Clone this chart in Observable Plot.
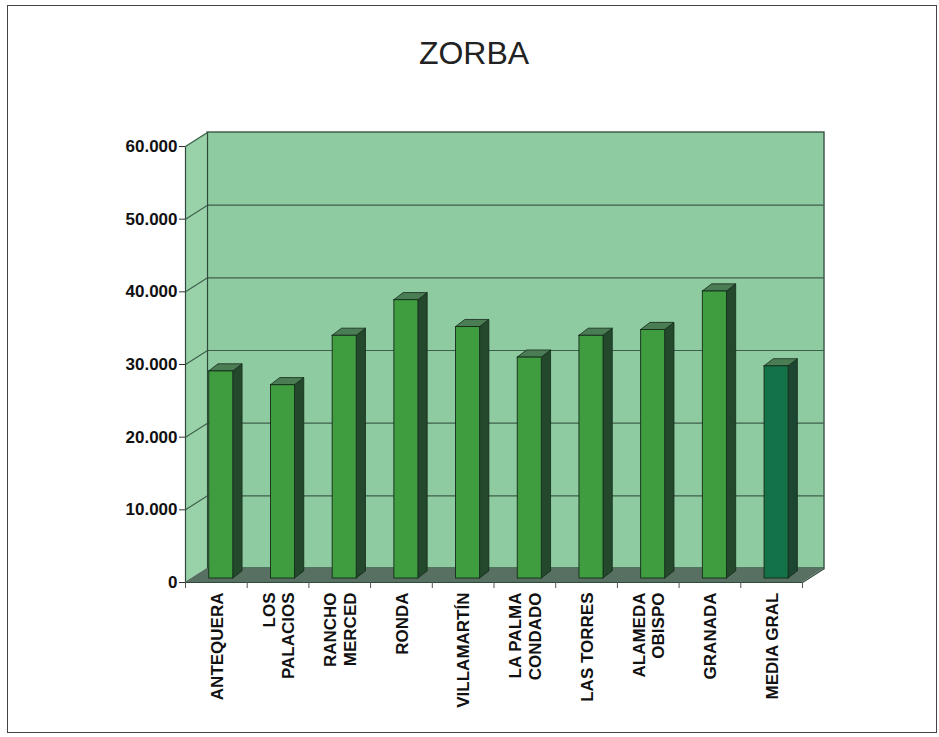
<!DOCTYPE html>
<html>
<head>
<meta charset="utf-8">
<script src="https://cdn.jsdelivr.net/npm/d3@7"></script>
<script src="https://cdn.jsdelivr.net/npm/@observablehq/plot@0.6"></script>
<style>
  html, body { margin: 0; padding: 0; background: #fff; }
  #wrap { position: relative; width: 939px; height: 737px; overflow: hidden; }
  #border { position: absolute; left: 7px; top: 5px; width: 928px; height: 726px; border: 1.5px solid #444; pointer-events: none; }
</style>
</head>
<body>
<div id="wrap"><div id="border"></div></div>
<script>
// ---- data ----
const title = "ZORBA";
const categories = ["ANTEQUERA", "LOS\nPALACIOS", "RANCHO\nMERCED", "RONDA", "VILLAMARTÍN",
                    "LA PALMA\nCONDADO", "LAS TORRES", "ALAMEDA\nOBISPO", "GRANADA", "MEDIA GRAL"];
const values = [28500, 26600, 33400, 38300, 34600, 30400, 33400, 34200, 39500, 29200];
const yTicks = [0, 10000, 20000, 30000, 40000, 50000, 60000];

// ---- 3D geometry (in data units) ----
const n = categories.length;
const boxDX = 0.357, boxDY = 1927;      // depth of the chart box
const barOffX = 0.08, barOffY = 550;    // bar front face set back from the front plane
const barW = 0.39;                      // bar front width
const barDX = 0.15, barDY = 980;        // bar depth
const yMax = yTicks[yTicks.length - 1];

const bars = values.map((v, i) => {
  const x1 = i + 0.5 - barW / 2 + barOffX;
  return {i, v, x1, x2: x1 + barW, y1: barOffY, y2: v + barOffY, avg: i === n - 1};
});
const sidePts = bars.flatMap(b => [
  {k: b.i, avg: b.avg, x: b.x2, y1: b.y1, y2: b.y2},
  {k: b.i, avg: b.avg, x: b.x2 + barDX, y1: b.y1 + barDY, y2: b.y2 + barDY}
]);
const capPts = bars.flatMap(b => [
  {k: b.i, x: b.x1, y1: b.y2, y2: b.y2},
  {k: b.i, x: b.x1 + barDX, y1: b.y2, y2: b.y2 + barDY},
  {k: b.i, x: b.x2, y1: b.y2, y2: b.y2 + barDY},
  {k: b.i, x: b.x2 + barDX, y1: b.y2 + barDY, y2: b.y2 + barDY}
]);
const leftWall = [{x: 0, y1: 0, y2: yMax}, {x: boxDX, y1: boxDY, y2: yMax + boxDY}];
const floor = [
  {x: 0, y1: 0, y2: 0}, {x: boxDX, y1: 0, y2: boxDY},
  {x: n, y1: 0, y2: boxDY}, {x: n + boxDX, y1: boxDY, y2: boxDY}
];
const fmt = d => d === 0 ? "0" : d3.format(",")(d).replace(/,/g, ".");
const edge = "#2f4a3a";

const plot = Plot.plot({
  width: 939,
  height: 737,
  marginLeft: 185,
  marginRight: 137,
  marginTop: 146,
  marginBottom: 155,
  style: {fontFamily: "'Liberation Sans', Arial, sans-serif", background: "transparent", color: "#111"},
  x: {type: "linear", domain: [0, n]},
  y: {domain: [0, yMax]},
  marks: [
    // back wall
    Plot.rect([0], {x1: boxDX, x2: n + boxDX, y1: boxDY, y2: yMax + boxDY, fill: "#8fcba1", stroke: edge, strokeWidth: 1.3}),
    Plot.ruleY(yTicks.slice(1, -1), {y: d => d + boxDY, x1: boxDX, x2: n + boxDX, stroke: "#3e5f4b", strokeWidth: 1.1}),
    // left wall
    Plot.areaY(leftWall, {x: "x", y1: "y1", y2: "y2", fill: "#99d1a9"}),
    Plot.link(yTicks, {x1: 0, x2: boxDX, y1: d => d, y2: d => d + boxDY, stroke: "#3e5f4b", strokeWidth: 1.1}),
    Plot.link([0, 1], {x1: d => d * boxDX, x2: d => d * boxDX, y1: d => d * boxDY, y2: d => yMax + d * boxDY, stroke: edge, strokeWidth: 1.2}),
    // floor
    Plot.areaY(floor, {x: "x", y1: "y1", y2: "y2", fill: "#587062"}),
    Plot.link([0], {x1: 0, x2: n, y1: 0, y2: 0, stroke: edge, strokeWidth: 1.2}),
    Plot.link([0], {x1: n, x2: n + boxDX, y1: 0, y2: boxDY, stroke: edge, strokeWidth: 1.2}),
    // bars: side faces, caps, fronts
    Plot.areaY(sidePts, {x: "x", y1: "y1", y2: "y2", z: "k", fill: d => d.avg ? "#1d4632" : "#23482c", stroke: "#142a1a", strokeWidth: 0.8}),
    Plot.areaY(capPts, {x: "x", y1: "y1", y2: "y2", z: "k", fill: "#4b7d54", stroke: "#142a1a", strokeWidth: 0.8}),
    Plot.rect(bars, {x1: "x1", x2: "x2", y1: "y1", y2: "y2", fill: d => d.avg ? "#147248" : "#3f9d40", stroke: "#142a1a", strokeWidth: 0.9}),
    // axes
    Plot.axisY(yTicks, {tickFormat: fmt, tickSize: 6, tickPadding: 2, fontSize: 17, fontWeight: "bold", stroke: "#333"}),
    Plot.axisX(d3.range(n + 1), {tickFormat: () => "", tickSize: 6, stroke: "#555"}),
    Plot.axisX(d3.range(n).map(i => i + 0.5), {
      tickFormat: d => categories[Math.floor(d)], tickSize: 0, tickPadding: 10,
      tickRotate: -90, fontSize: 17, fontWeight: "bold", lineHeight: 1.15
    }),
    // title
    Plot.text([title], {frameAnchor: "top", dx: -20, dy: -83, lineAnchor: "bottom", fontSize: 32, fill: "#222"})
  ]
});
document.getElementById("wrap").prepend(plot);
</script>
</body>
</html>
